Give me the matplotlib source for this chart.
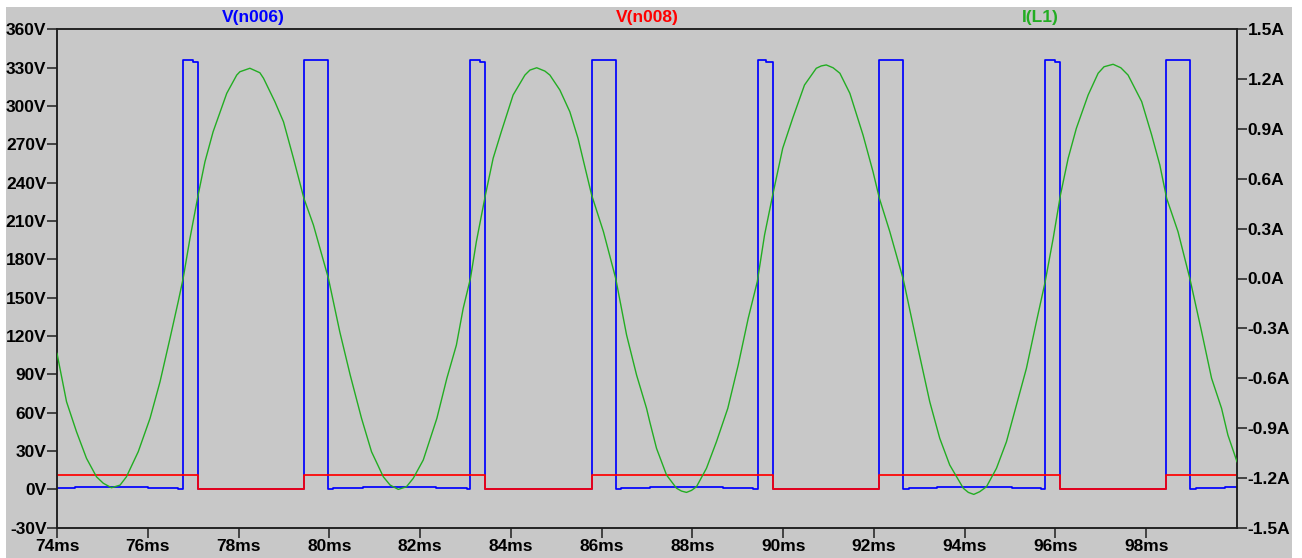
import matplotlib
matplotlib.use("Agg")
import matplotlib.pyplot as plt
from matplotlib.patches import Rectangle

# ---------------- data ----------------
# V(n006): step waveform (time in ms, level in V held until next time)
v006_t = [74.00, 74.40, 76.01, 76.67, 76.78, 76.99, 77.11, 79.44, 79.98, 80.09,
          80.75, 82.34, 83.03, 83.11, 83.32, 83.44, 85.78, 86.31, 86.42, 87.06,
          88.68, 89.33, 89.44, 89.63, 89.78, 92.12, 92.64, 92.77, 93.40, 95.05,
          95.69, 95.77, 95.99, 96.11, 98.44, 98.97, 99.09, 99.73, 100.00]
v006_v = [0.8, 1.8, 0.8, 0.0, 336.0, 334.7, 0.0, 336.0, 0.0, 0.8,
          1.8, 0.8, 0.0, 336.0, 334.7, 0.0, 336.0, 0.0, 0.8, 1.8,
          0.8, 0.0, 336.0, 334.7, 0.0, 336.0, 0.0, 0.8, 1.8, 0.8,
          0.0, 336.0, 334.7, 0.0, 336.0, 0.0, 0.8, 1.8, 1.8]

# V(n008): step waveform
v008_t = [74.00, 77.11, 79.44, 83.44, 85.78, 89.78, 92.12, 96.11, 98.44, 100.00]
v008_v = [11.2, 0.0, 11.2, 0.0, 11.2, 0.0, 11.2, 0.0, 11.2, 11.2]

# I(L1): sampled current (ms, A)
il1_t = [74.00, 74.21, 74.43, 74.65, 74.87, 75.02, 75.20, 75.39, 75.53, 75.79,
         76.05, 76.27, 76.49, 76.67, 76.78, 76.93, 77.11, 77.26, 77.44, 77.74,
         77.96, 78.03, 78.25, 78.47, 78.55, 78.80, 78.99, 79.21, 79.44, 79.65,
         79.98, 80.23, 80.46, 80.71, 80.93, 81.19, 81.34, 81.52, 81.70, 81.85,
         82.07, 82.37, 82.59, 82.80, 82.95, 83.11, 83.24, 83.44, 83.61, 83.79,
         84.05, 84.31, 84.42, 84.57, 84.75, 84.86, 85.08, 85.30, 85.48, 85.78,
         86.04, 86.31, 86.55, 86.77, 86.99, 87.06, 87.21, 87.43, 87.65, 87.76,
         87.87, 87.98, 88.09, 88.31, 88.53, 88.78, 89.01, 89.23, 89.43, 89.59,
         89.77, 89.99, 90.21, 90.47, 90.73, 90.84, 90.95, 91.10, 91.25, 91.47,
         91.76, 91.98, 92.12, 92.35, 92.65, 92.94, 93.23, 93.45, 93.67, 93.97,
         94.08, 94.20, 94.33, 94.48, 94.70, 94.92, 95.14, 95.36, 95.58, 95.77,
         95.95, 96.11, 96.28, 96.46, 96.72, 96.94, 97.07, 97.27, 97.44, 97.60,
         97.90, 98.12, 98.30, 98.45, 98.70, 98.96, 99.22, 99.44, 99.66, 99.80,
         100.00]
il1_a = [-0.451, -0.742, -0.923, -1.083, -1.194, -1.233, -1.260, -1.244, -1.194, -1.043,
         -0.842, -0.622, -0.360, -0.140, 0.001, 0.242, 0.503, 0.703, 0.884, 1.115,
         1.225, 1.245, 1.266, 1.239, 1.206, 1.065, 0.944, 0.724, 0.483, 0.322,
         0.001, -0.320, -0.581, -0.842, -1.043, -1.194, -1.244, -1.270, -1.254, -1.203,
         -1.093, -0.842, -0.601, -0.401, -0.180, 0.001, 0.222, 0.503, 0.724, 0.884,
         1.105, 1.225, 1.255, 1.269, 1.249, 1.225, 1.135, 1.004, 0.844, 0.503,
         0.282, 0.001, -0.340, -0.581, -0.782, -0.862, -1.023, -1.183, -1.263, -1.280,
         -1.288, -1.276, -1.254, -1.143, -0.983, -0.782, -0.521, -0.240, -0.019, 0.262,
         0.503, 0.784, 0.965, 1.165, 1.266, 1.280, 1.286, 1.269, 1.236, 1.115,
         0.864, 0.643, 0.483, 0.282, -0.009, -0.381, -0.742, -0.962, -1.123, -1.263,
         -1.288, -1.300, -1.284, -1.254, -1.143, -0.983, -0.762, -0.541, -0.260, -0.024,
         0.242, 0.503, 0.724, 0.904, 1.105, 1.236, 1.275, 1.290, 1.269, 1.225,
         1.065, 0.864, 0.683, 0.483, 0.282, 0.001, -0.320, -0.601, -0.782, -0.943,
         -1.103]

x_ticks = [74, 76, 78, 80, 82, 84, 86, 88, 90, 92, 94, 96, 98]
x_labels = [f"{v}ms" for v in x_ticks]
yl_ticks = [-30, 0, 30, 60, 90, 120, 150, 180, 210, 240, 270, 300, 330, 360]
yl_labels = [f"{v}V" for v in yl_ticks]
yr_ticks = [-1.5, -1.2, -0.9, -0.6, -0.3, 0.0, 0.3, 0.6, 0.9, 1.2, 1.5]
yr_labels = [f"{v:.1f}A" for v in yr_ticks]
trace_names = ["V(n006)", "V(n008)", "I(L1)"]

# ---------------- style ----------------
BG = "#c8c8c8"
AX = "#1e1e1e"
C_BLUE = "#0000ff"
C_RED = "#ff0000"
C_GREEN = "#22ad22"
FONT = "Liberation Sans"
FS = 12.5

W, H = 1302, 558
fig = plt.figure(figsize=(W / 100, H / 100), dpi=100, facecolor="white")
fig.patches.append(Rectangle((6 / W, 0), (1292 - 6) / W, (H - 7) / H,
                             transform=fig.transFigure, facecolor=BG,
                             edgecolor="none", zorder=-10))

x0, x1 = 57, 1237
ytop, ybot = 29.4, 527.6
ax = fig.add_axes([x0 / W, (H - ybot) / H, (x1 - x0) / W, (ybot - ytop) / H])
ax.set_facecolor(BG)

ax.plot(v006_t, v006_v, drawstyle="steps-post", color=C_BLUE, lw=1.25, zorder=2)
ax.plot(v008_t, v008_v, drawstyle="steps-post", color=C_RED, lw=1.25, zorder=3)
ax.set_xlim(74, 100)
ax.set_ylim(-30, 360)

ax2 = ax.twinx()
ax2.plot(il1_t, il1_a, color=C_GREEN, lw=1.0, zorder=4)
ax2.set_ylim(-1.5, 1.5)

ax.set_xticks(x_ticks)
ax.set_xticklabels(x_labels)
ax.set_yticks(yl_ticks)
ax.set_yticklabels(yl_labels)
ax2.set_yticks(yr_ticks)
ax2.set_yticklabels(yr_labels)

for a in (ax, ax2):
    for s in a.spines.values():
        s.set_color(AX)
        s.set_linewidth(1.1)

ax.tick_params(axis="x", direction="out", length=7, width=1.1, color=AX,
               pad=1.5, labelsize=FS, top=False)
ax.tick_params(axis="y", direction="out", length=7, width=1.1, color=AX,
               pad=0.5, labelsize=FS, right=False)
ax2.tick_params(axis="y", direction="out", length=7, width=1.1, color=AX,
                pad=0.5, labelsize=FS)
for lab in ax.get_xticklabels() + ax.get_yticklabels() + ax2.get_yticklabels():
    lab.set_fontfamily(FONT)
    lab.set_fontweight("bold")
    lab.set_color("black")

title_colors = [C_BLUE, C_RED, C_GREEN]
for i, (name, col) in enumerate(zip(trace_names, title_colors)):
    ax.text((2 * i + 1) / 6, 1.0 + 11.5 / (ybot - ytop), name, transform=ax.transAxes,
            ha="center", va="center", color=col, fontsize=FS,
            fontfamily=FONT, fontweight="bold")

fig.savefig("out.png", dpi=100, facecolor="white")
